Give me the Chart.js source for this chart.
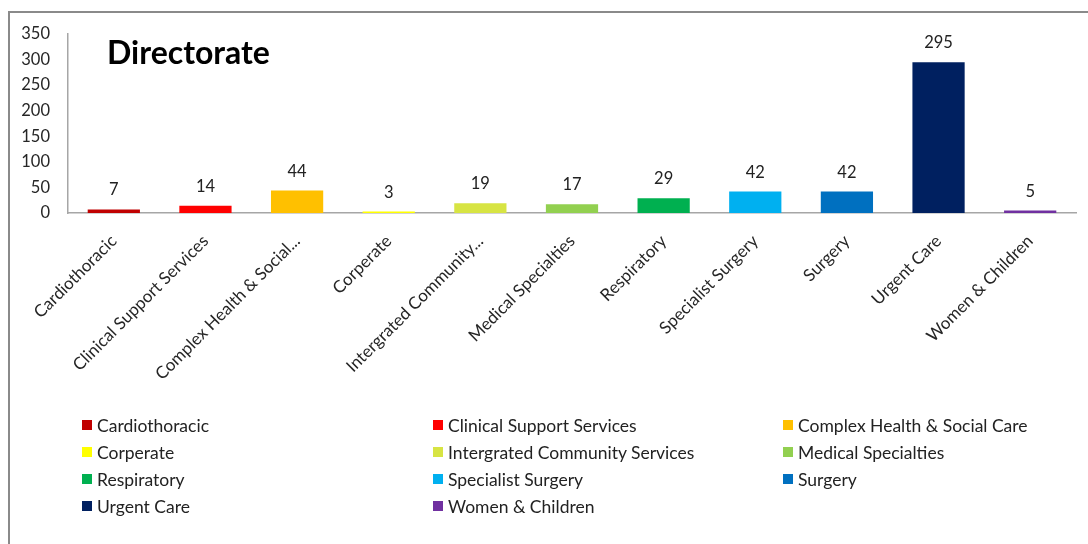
<!DOCTYPE html>
<html>
<head>
<meta charset="utf-8">
<script src="https://cdn.jsdelivr.net/npm/chart.js@4.4.1/dist/chart.umd.min.js"></script>
<style>
  body { margin: 0; background: #fff; font-family: Lato, "Open Sans", sans-serif; }
  #wrap { position: relative; width: 1088px; height: 544px; overflow: hidden; }
  #frame { position: absolute; left: 8px; top: 11px; width: 1100px; height: 560px; border: 2px solid #8a8a8a; box-sizing: border-box; }
  #title { position: absolute; left: 107px; top: 32px; font-size: 32px; font-weight: bold; color: #000; }
  #legend { position: absolute; left: 82px; top: 415px; display: grid; grid-template-columns: 351px 350px 300px; row-gap: 7px; }
  .item { display: flex; align-items: center; font-size: 17.5px; color: #222; height: 20px; }
  .box { width: 10px; height: 10px; margin-right: 5px; }
</style>
</head>
<body>
<div id="wrap">
  <div id="frame"></div>
  <canvas id="chart" width="1088" height="544"></canvas>
  <div id="title">Directorate</div>
  <div id="legend"></div>
</div>
<script>
const categories = ['Cardiothoracic', 'Clinical Support Services', 'Complex Health & Social Care', 'Corperate',
  'Intergrated Community Services', 'Medical Specialties', 'Respiratory', 'Specialist Surgery',
  'Surgery', 'Urgent Care', 'Women & Children'];
const counts = [7, 14, 44, 3, 19, 17, 29, 42, 42, 295, 5];
const colors = ['#c00000', '#ff0000', '#ffc000', '#ffff00', '#d7e443', '#92d050', '#00b050', '#00b0f0',
  '#0070c0', '#002060', '#7030a0'];
const yTicks = [0, 50, 100, 150, 200, 250, 300, 350];

// legend as a 3-column grid
const legendEl = document.getElementById('legend');
categories.forEach((name, i) => {
  const item = document.createElement('div');
  item.className = 'item';
  item.innerHTML = '<span class="box" style="background:' + colors[i] + '"></span>' + name;
  legendEl.appendChild(item);
});

// value labels above the bars
const valueLabels = {
  id: 'valueLabels',
  afterDatasetsDraw(chart) {
    const ctx = chart.ctx;
    const meta = chart.getDatasetMeta(0);
    ctx.save();
    ctx.font = '16.5px Lato, sans-serif';
    ctx.fillStyle = '#222';
    ctx.textAlign = 'center';
    ctx.textBaseline = 'bottom';
    meta.data.forEach((bar, i) => {
      ctx.fillText(counts[i], bar.x, bar.y - 11);
    });
    ctx.restore();
  }
};

new Chart(document.getElementById('chart'), {
  type: 'bar',
  data: {
    labels: categories,
    datasets: [{
      data: counts,
      backgroundColor: colors,
      borderWidth: 0,
      barPercentage: 0.57,
      categoryPercentage: 1.0
    }]
  },
  options: {
    responsive: false,
    animation: false,
    layout: { padding: { left: 10, right: 12, top: 34, bottom: 0 } },
    plugins: {
      legend: { display: false },
      tooltip: { enabled: false }
    },
    scales: {
      y: {
        min: 0,
        max: 350,
        afterBuildTicks(scale) {
          scale.ticks = yTicks.map(v => ({ value: v }));
        },
        afterFit(scale) { scale.width = 58; },
        grid: { display: false, drawTicks: false },
        border: { color: '#a6a6a6', width: 1.5 },
        ticks: { color: '#262626', font: { family: 'Lato', size: 16.5 }, padding: 18 }
      },
      x: {
        afterFit(scale) { scale.height = 331; },
        grid: { display: false, drawTicks: false },
        border: { color: '#a6a6a6', width: 1.5 },
        ticks: {
          color: '#262626',
          font: { family: 'Lato', size: 17 },
          maxRotation: 45,
          minRotation: 45,
          padding: 18,
          autoSkip: false,
          callback(value) {
            const name = categories[value];
            if (name.length <= 25) return name;
            const cut = name.slice(0, 24);
            return cut.slice(0, cut.lastIndexOf(' ')) + '...';
          }
        }
      }
    }
  },
  plugins: [valueLabels]
});
</script>
</body>
</html>
